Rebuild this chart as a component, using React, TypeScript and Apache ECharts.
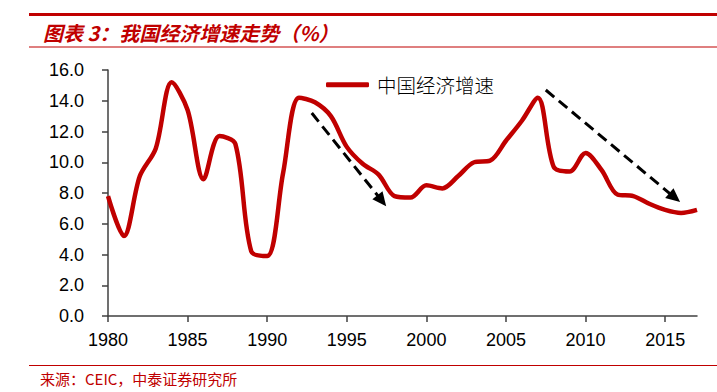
import React, { useEffect, useRef } from "react";
import * as echarts from "echarts";

const years = [1980, 1981, 1982, 1983, 1984, 1985, 1986, 1987, 1988, 1989, 1990, 1991, 1992, 1993, 1994, 1995, 1996, 1997, 1998, 1999, 2000, 2001, 2002, 2003, 2004, 2005, 2006, 2007, 2008, 2009, 2010, 2011, 2012, 2013, 2014, 2015, 2016, 2017];
const growth = [7.8, 5.2, 9.1, 10.9, 15.2, 13.4, 8.9, 11.7, 11.2, 4.2, 3.9, 9.3, 14.2, 13.9, 13.0, 11.0, 9.9, 9.2, 7.8, 7.7, 8.5, 8.3, 9.1, 10.0, 10.1, 11.4, 12.7, 14.2, 9.7, 9.4, 10.6, 9.5, 7.9, 7.8, 7.3, 6.9, 6.7, 6.9];
const xTicks = [1980, 1985, 1990, 1995, 2000, 2005, 2010, 2015];
const seriesName = "中国经济增速";
const titleText = "图表 3：我国经济增速走势（%）";
const sourceText = "来源：CEIC，中泰证券研究所";
// trend arrows in data coordinates [year, value]
const arrow1 = [[1992.8, 13.2], [1997.2, 7.5]];
const arrow2 = [[2007.5, 14.7], [2015.6, 7.7]];

const RED = "#C00000";

export default function App() {
  const ref = useRef<HTMLDivElement>(null);
  useEffect(() => {
    if (!ref.current) return;
    const chart = echarts.init(ref.current, null, { renderer: "svg" });
    const data = years.map((y, i) => [y, growth[i]]);
    chart.setOption({
      animation: false,
      backgroundColor: "#fff",
      grid: { left: 108, right: 20, top: 70, bottom: 76, containLabel: false },
      legend: {
        data: [seriesName],
        left: 321,
        top: 70,
        icon: "roundRect",
        itemWidth: 43,
        itemHeight: 5,
        itemGap: 6,
        textStyle: { fontSize: 19.5, color: "#000", fontFamily: "Noto Sans CJK SC", fontWeight: 300, padding: [0, 0, 0, 3] },
      },
      xAxis: {
        type: "value",
        min: 1980,
        max: 2017,
        interval: 5,
        axisLine: { show: true, lineStyle: { color: "#404040", width: 1.5 } },
        axisTick: { show: true, length: 6, customValues: xTicks, lineStyle: { color: "#404040", width: 1.5 } },
        axisLabel: {
          customValues: xTicks,
          margin: 15,
          fontSize: 18,
          color: "#000",
          fontFamily: "Liberation Sans",
          formatter: (v: number) => String(v),
        },
        splitLine: { show: false },
      },
      yAxis: {
        type: "value",
        min: 0,
        max: 16,
        interval: 2,
        axisLine: { show: true, lineStyle: { color: "#404040", width: 1.5 } },
        axisTick: { show: true, length: 6, lineStyle: { color: "#404040", width: 1.5 } },
        axisLabel: {
          margin: 24,
          fontSize: 18,
          color: "#000",
          fontFamily: "Liberation Sans",
          formatter: (v: number) => v.toFixed(1),
        },
        splitLine: { show: false },
      },
      series: [
        {
          name: seriesName,
          type: "line",
          data,
          smooth: 0.32,
          showSymbol: false,
          lineStyle: { color: RED, width: 4.5 },
          itemStyle: { color: RED },
          markLine: {
            silent: true,
            symbol: ["none", "triangle"],
            symbolSize: [13, 14],
            label: { show: false },
            lineStyle: { color: "#000", width: 3, type: [11, 6] },
            data: [
              [{ coord: arrow1[0] }, { coord: arrow1[1] }],
              [{ coord: arrow2[0] }, { coord: arrow2[1] }],
            ],
          },
        },
      ],
      graphic: [
        { type: "rect", shape: { x: 29, y: 13, width: 688, height: 3 }, style: { fill: RED } },
        { type: "rect", shape: { x: 29, y: 46.5, width: 688, height: 1 }, style: { fill: RED } },
        {
          type: "text",
          x: 43,
          y: 32,
          style: {
            text: titleText,
            fill: RED,
            font: "italic bold 20px 'Noto Sans CJK SC'",
            verticalAlign: "middle",
          },
        },
        { type: "rect", shape: { x: 29, y: 365, width: 688, height: 1 }, style: { fill: RED } },
        {
          type: "text",
          x: 40,
          y: 378,
          style: {
            text: sourceText,
            fill: RED,
            font: "15px 'Noto Sans CJK SC'",
            verticalAlign: "middle",
          },
        },
      ],
    });
    return () => chart.dispose();
  }, []);
  return <div ref={ref} style={{ position: "fixed", left: 0, top: 0, width: 717, height: 392 }} />;
}
